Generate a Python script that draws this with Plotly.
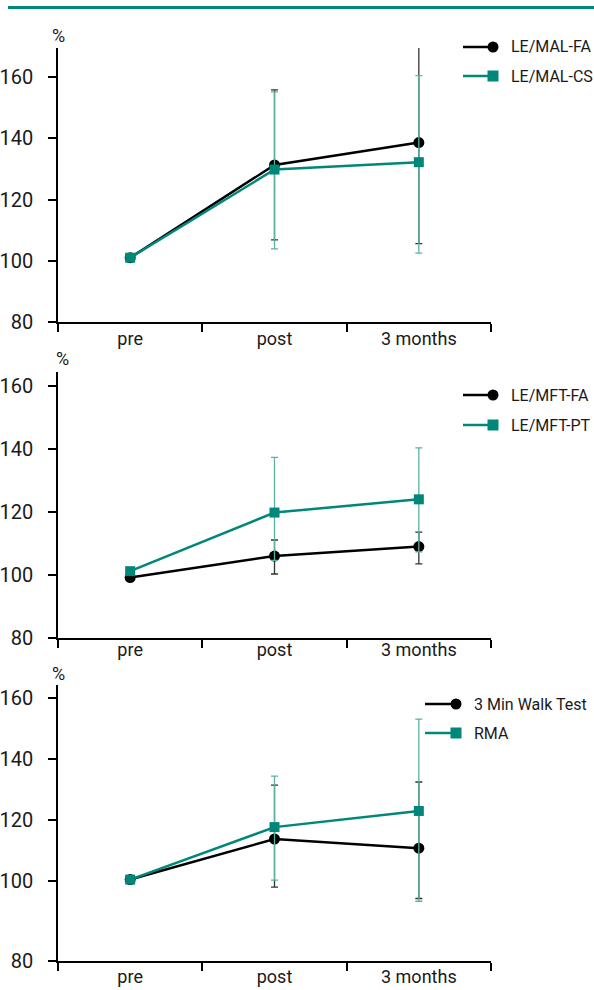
import plotly.graph_objects as go

# ---------------- data ----------------
timepoints = ["pre", "post", "3 months"]

# Panel 1
mal_fa = [101.0, 131.3, 138.6]
mal_fa_err_plus = [0, 24.5, 31.5]
mal_fa_err_minus = [0, 24.5, 33.0]
mal_cs = [101.0, 129.8, 132.2]
mal_cs_err_plus = [0, 25.4, 28.3]
mal_cs_err_minus = [0, 25.9, 29.7]

# Panel 2
mft_fa = [99.2, 106.0, 109.0]
mft_fa_err_plus = [0, 5.1, 4.6]
mft_fa_err_minus = [0, 5.7, 5.5]
mft_pt = [101.2, 119.8, 124.0]
mft_pt_err_plus = [0, 17.5, 16.3]
mft_pt_err_minus = [0, 15.2, 16.7]

# Panel 3
walk = [100.5, 113.8, 110.8]
walk_err_plus = [0, 17.7, 21.7]
walk_err_minus = [0, 15.8, 16.5]
rma = [100.5, 117.7, 123.0]
rma_err_plus = [0, 16.7, 30.1]
rma_err_minus = [0, 17.4, 29.6]

names_1 = ["LE/MAL-FA", "LE/MAL-CS"]
names_2 = ["LE/MFT-FA", "LE/MFT-PT"]
names_3 = ["3 Min Walk Test", "RMA"]

y_ticks_1 = [80, 100, 120, 140, 160]
y_ticks_2 = [80, 100, 120, 140, 160]
y_ticks_3 = [73.8, 100, 120, 140, 160]
y_ticktext = ["80", "100", "120", "140", "160"]

# ---------------- style ----------------
W, H = 594, 990
ML, MR = 58, 103            # plot area spans x 58 .. 491
PW = W - ML - MR
TEAL = "#00877a"
TEAL_ERR = "#5cb0a6"
BLACK = "#000000"
BLACK_ERR = "#333333"
FONT = "Roboto, sans-serif"
TXT = "#1a1a1a"


def px_(x):
    """pixel x -> paper x"""
    return (x - ML) / PW


def py(y):
    """pixel y -> paper y"""
    return 1 - y / H


fig = go.Figure()

panels = [
    (names_1, mal_fa, mal_fa_err_plus, mal_fa_err_minus, mal_cs, mal_cs_err_plus, mal_cs_err_minus, ""),
    (names_2, mft_fa, mft_fa_err_plus, mft_fa_err_minus, mft_pt, mft_pt_err_plus, mft_pt_err_minus, "2"),
    (names_3, walk, walk_err_plus, walk_err_minus, rma, rma_err_plus, rma_err_minus, "3"),
]

for k, (names, a, ap, am, b, bp, bm, sfx) in enumerate(panels):
    fig.add_trace(go.Scatter(
        x=timepoints, y=a, name=names[0], mode="lines+markers",
        line=dict(color=BLACK, width=2.5),
        marker=dict(symbol="circle", size=11, color=BLACK),
        error_y=dict(type="data", array=ap, arrayminus=am, color=BLACK_ERR, thickness=1.3, width=3.5),
        xaxis="x" + sfx, yaxis="y" + sfx, showlegend=False,
    ))
    fig.add_trace(go.Scatter(
        x=timepoints, y=b, name=names[1], mode="lines+markers",
        line=dict(color=TEAL, width=2.5),
        marker=dict(symbol="square", size=10, color=TEAL),
        error_y=dict(type="data", array=bp, arrayminus=bm, color=TEAL_ERR, thickness=1.3, width=3.5),
        xaxis="x" + sfx, yaxis="y" + sfx, showlegend=False,
    ))

y_doms = [[py(322), py(48)], [py(638), py(372)], [py(961), py(685)]]
y_ranges = [[80, 169.5], [80, 164.4], [73.8, 164.3]]
y_tickvals = [y_ticks_1, y_ticks_2, y_ticks_3]
x_standoff = [0, -5, -1]

axis_font = dict(family=FONT, size=20, color=TXT)
xlab_font = dict(family=FONT, size=18, color=TXT)

for i, sfx in enumerate(["", "2", "3"]):
    fig.update_layout(**{
        "xaxis" + sfx: dict(
            domain=[0, 1], type="category", tickson="boundaries",
            range=[-0.5, 2.5],
            showline=True, linecolor=BLACK, linewidth=1.5,
            ticks="outside", ticklen=8, tickwidth=1.5, tickcolor=BLACK,
            showgrid=False, zeroline=False, tickfont=xlab_font,
            ticklabelstandoff=x_standoff[i], automargin=False,
            anchor="y" + sfx, fixedrange=True,
        ),
        "yaxis" + sfx: dict(
            domain=y_doms[i], range=y_ranges[i],
            tickvals=y_tickvals[i], ticktext=y_ticktext,
            showline=True, linecolor=BLACK, linewidth=1.5,
            ticks="outside", ticklen=8, tickwidth=1.5, tickcolor=BLACK,
            showgrid=False, zeroline=False, tickfont=axis_font,
            ticklabelstandoff=11, automargin=False,
            anchor="x" + sfx, fixedrange=True,
        ),
    })

# ---------------- legends (line ending in the marker, label to the right) ----------------
legend_rows = [
    # (line start, marker x, text x, row1 y, row2 y) in pixels
    (463, 493, 509, 47, 76),
    (463, 493, 509, 395, 425),
    (425, 456, 472, 704, 733),
]
LEG_FONT = dict(family=FONT, size=16, color=TXT)
for (names, *_rest), (x0, xm, xt, r1, r2) in zip(panels, legend_rows):
    for j, (ry, col, sym) in enumerate([(r1, BLACK, "circle"), (r2, TEAL, "rect")]):
        fig.add_shape(type="line", xref="paper", yref="paper",
                      x0=px_(x0), x1=px_(xm), y0=py(ry), y1=py(ry),
                      line=dict(color=col, width=2.5))
        r = 5.5
        fig.add_shape(type=sym, xref="paper", yref="paper",
                      x0=px_(xm - r), x1=px_(xm + r), y0=py(ry + r), y1=py(ry - r),
                      line=dict(color=col, width=0), fillcolor=col)
        fig.add_annotation(x=px_(xt), y=py(ry), xref="paper", yref="paper",
                           text=names[j], showarrow=False, font=LEG_FONT,
                           xanchor="left", yanchor="middle")

# "%" unit labels
for (xp, yp) in [(58, 35), (62, 358), (58, 673)]:
    fig.add_annotation(
        x=px_(xp), y=py(yp), xref="paper", yref="paper", text="%",
        showarrow=False, font=dict(family=FONT, size=18, color=TXT),
        xanchor="center", yanchor="middle",
    )

# teal rule at top
fig.add_shape(type="line", xref="paper", yref="paper",
              x0=px_(8), x1=px_(W), y0=py(7.5), y1=py(7.5),
              line=dict(color=TEAL, width=3))

fig.update_layout(
    width=W, height=H,
    margin=dict(l=ML, r=MR, t=0, b=0, autoexpand=False),
    paper_bgcolor="white", plot_bgcolor="white",
    showlegend=False,
)

fig.write_html(
    "out.html",
    config={"displayModeBar": False},
    post_script="document.body.style.margin='0';document.body.style.overflow='hidden';",
)
